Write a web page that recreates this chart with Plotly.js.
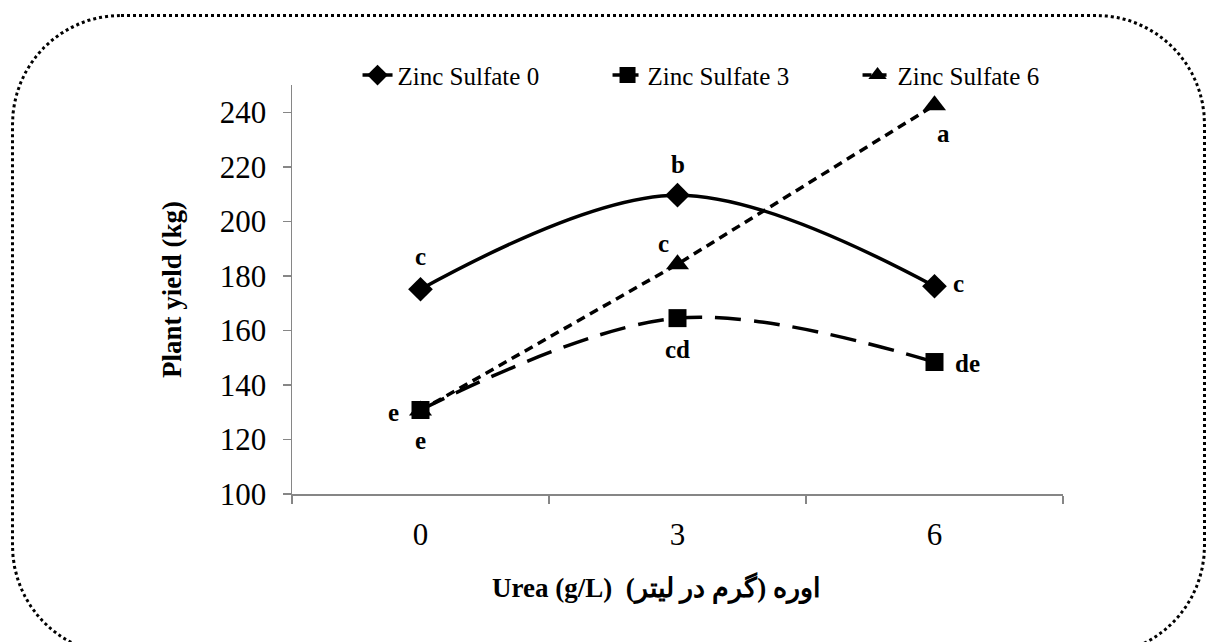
<!DOCTYPE html>
<html>
<head>
<meta charset="utf-8">
<script src="https://cdn.plot.ly/plotly-3.0.1.min.js"></script>
<style>
html,body{margin:0;padding:0;background:#fff;}
#wrap{position:relative;width:1210px;height:642px;overflow:hidden;}
#frame{position:absolute;left:11px;top:14px;width:1195px;height:642px;border:3px dotted #000;border-radius:110px;box-sizing:border-box;pointer-events:none;}
#chart{position:absolute;left:0;top:0;width:1210px;height:642px;}
</style>
</head>
<body>
<div id="wrap">
<div id="chart"></div>
<div id="frame"></div>
</div>
<script>
const categories = ['0', '3', '6'];
const zinc0 = [175.1, 209.6, 176.2];
const zinc3 = [130.8, 164.5, 148.4];
const zinc6 = [130.6, 184.3, 242.6];
const seriesNames = ['Zinc Sulfate 0', 'Zinc Sulfate 3', 'Zinc Sulfate 6'];
const yTicks = [100, 120, 140, 160, 180, 200, 220, 240];
const letters0 = ['c', 'b', 'c'];
const letters3 = ['e', 'cd', 'de'];
const letters6 = ['', 'c', 'a'];
const extraLetter3 = 'e';

const serif = '"Liberation Serif", "Times New Roman", serif';

const traces = [
  {x: categories, y: zinc0, name: seriesNames[0], type: 'scatter', mode: 'lines+markers',
   line: {color: '#000', width: 3.5, shape: 'spline', smoothing: 1},
   marker: {symbol: 'diamond', size: 19, color: '#000'}},
  {x: categories, y: zinc3, name: seriesNames[1], type: 'scatter', mode: 'lines+markers',
   line: {color: '#000', width: 3.5, shape: 'spline', smoothing: 1, dash: '26px,13px'},
   marker: {symbol: 'square', size: 18, color: '#000'}},
  {x: categories, y: zinc6, name: seriesNames[2], type: 'scatter', mode: 'lines+markers',
   line: {color: '#000', width: 3.5, dash: '9px,6px'},
   marker: {symbol: 'triangle-up', size: 20, color: '#000'}}
];

function ann(i, y, text, xs, ys) {
  return {x: i, y: y, xref: 'x', yref: 'y', text: '<b>' + text + '</b>', showarrow: false,
          xshift: xs, yshift: ys, font: {family: serif, size: 25, color: '#000'}};
}
const annotations = [
  ann(0, zinc0[0], letters0[0], 0, 33),
  ann(1, zinc0[1], letters0[1], 0, 31),
  ann(2, zinc0[2], letters0[2], 24, 3),
  ann(1, zinc6[1], letters6[1], -14, 21),
  ann(2, zinc6[2], letters6[2], 9, -28),
  ann(0, zinc3[0], letters3[0], -27, -2),
  ann(0, zinc3[0], extraLetter3, 0, -30),
  ann(1, zinc3[1], letters3[1], 0, -31),
  ann(2, zinc3[2], letters3[2], 33, -1),
  {x: 0.473, y: -0.276, xref: 'paper', yref: 'paper', showarrow: false,
   text: '<b>Urea (g/L)  اوره (گرم در لیتر)</b>',
   font: {family: serif, size: 27, color: '#000'}}
];

const layout = {
  width: 1210, height: 642,
  margin: {l: 292, r: 147, t: 85, b: 148},
  paper_bgcolor: 'rgba(0,0,0,0)', plot_bgcolor: 'rgba(0,0,0,0)',
  showlegend: true,
  legend: {orientation: 'h', x: 0.085, y: 1.08, xanchor: 'left', yanchor: 'top',
           font: {family: serif, size: 25, color: '#000'}, bgcolor: 'rgba(0,0,0,0)',
           itemwidth: 30, entrywidth: 205, entrywidthmode: 'pixels'},
  xaxis: {type: 'category', range: [-0.5, 2.5], showgrid: false, zeroline: false,
          showline: true, linecolor: '#868686', linewidth: 1.5,
          ticks: 'outside', tickson: 'boundaries', ticklen: 8, tickcolor: '#868686', tickwidth: 1.5,
          ticklabelstandoff: 12,
          tickfont: {family: serif, size: 31, color: '#000'}},
  yaxis: {range: [100, 250], tickvals: yTicks, showgrid: false, zeroline: false,
          showline: true, linecolor: '#868686', linewidth: 1.5,
          ticks: 'outside', ticklen: 8, tickcolor: '#868686', tickwidth: 1.5,
          ticklabelstandoff: 10,
          tickfont: {family: serif, size: 31, color: '#000'},
          title: {text: '<b>Plant yield (kg)</b>', font: {family: serif, size: 27, color: '#000'}, standoff: 30}},
  annotations: annotations
};

Plotly.newPlot('chart', traces, layout, {displayModeBar: false, staticPlot: true});
</script>
</body>
</html>
